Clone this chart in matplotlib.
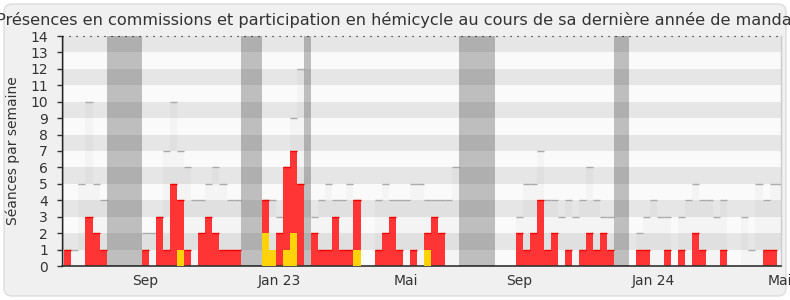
import matplotlib
matplotlib.use("Agg")
import matplotlib.pyplot as plt
from matplotlib.patches import FancyBboxPatch
import numpy as np

title = "Présences en commissions et participation en hémicycle au cours de sa dernière année de mandat"
ylabel = "Séances par semaine"

# weekly values (week index 0..101)
total = [1, 1, 5, 10, 5, 4, 0, 0, 0, 0, 0, 2, 2, 3, 7, 10, 7, 6, 4, 4, 5, 6, 5, 4, 4,
         0, 0, 0, 4, 4, 3, 6, 9, 12, 0, 3, 4, 5, 4, 4, 5, 4, 0, 0, 4, 5, 4, 4, 4, 5, 5,
         4, 4, 4, 4, 6, 0, 0, 0, 0, 0, 0, 0, 0, 3, 5, 5, 7, 4, 4, 3, 4, 3, 4, 6, 4, 3, 3,
         0, 0, 0, 2, 3, 4, 3, 3, 0, 3, 4, 5, 4, 4, 3, 4, 0, 0, 3, 1, 5, 4, 5, 5]
commission = [1, 0, 0, 3, 2, 1, 0, 0, 0, 0, 0, 1, 0, 3, 1, 5, 4, 1, 0, 2, 3, 2, 1, 1, 1,
              0, 0, 0, 4, 0, 2, 6, 7, 5, 0, 2, 1, 1, 3, 1, 1, 4, 0, 0, 1, 2, 3, 1, 0, 1, 0,
              2, 3, 2, 0, 0, 0, 0, 0, 0, 0, 0, 0, 0, 2, 1, 2, 4, 1, 2, 0, 1, 0, 1, 2, 1, 2, 1,
              0, 0, 0, 1, 1, 0, 0, 1, 0, 1, 0, 2, 1, 0, 0, 1, 0, 0, 0, 0, 0, 1, 1, 0]
hemicycle = [0] * 102
for wk, v in [(16, 1), (28, 2), (29, 1), (31, 1), (32, 2), (41, 1), (51, 1)]:
    hemicycle[wk] = v

vacances = [(-1, 0), (6, 11), (25, 28), (34, 35), (56, 61), (78, 80)]
tick_weeks = [11, 30, 48, 64, 83, 101]
tick_labels = ["Sep", "Jan 23", "Mai", "Sep", "Jan 24", "Mai"]

plt.rcParams['font.family'] = ['DejaVu Sans']
txt = '#333333'

fig = plt.figure(figsize=(7.9, 3.0), dpi=100)
fig.patch.set_facecolor('white')
box = FancyBboxPatch((0.04, 0.04), 7.82, 2.92, boxstyle="round,pad=0,rounding_size=0.08",
                     transform=fig.dpi_scale_trans, facecolor='#F0F0F0', edgecolor='#DDDDDD',
                     linewidth=1.0, zorder=-10)
fig.patches.append(box)

ax = fig.add_axes([62 / 790, 34 / 300, 718.5 / 790, 230 / 300])
ax.set_facecolor('#FAFAFA')
x = np.arange(len(total))

for lo in range(1, 14, 2):
    ax.axhspan(lo, lo + 1, color='#E6E6E6', lw=0, zorder=0)

ax.bar(x, total, width=1, align='edge', color=(0, 0, 0, 0.025), lw=0, zorder=1)
ax.hlines([t for t in total], x, x + 1, colors='#AAAAAA', lw=1.0, zorder=1.5)
ax.bar(x, commission, width=1, align='edge', color='#FF3535', lw=0, zorder=2)
mask = np.array(commission) > 0
ax.hlines(np.array(commission)[mask], x[mask], x[mask] + 1, colors='#F00000', lw=1.0, zorder=2.5)
ax.bar(x, hemicycle, width=1, align='edge', color='#FFD20A', lw=0, zorder=3)

for a, b in vacances:
    ax.axvspan(a, b, color='black', alpha=0.24, lw=0, zorder=4)

ax.axhline(14, color='black', lw=0.8, ls=(0, (1, 5.3)), zorder=5, clip_on=False)

ax.set_xlim(-0.33, 101.55)
ax.set_ylim(0, 14)
ax.set_yticks(range(0, 15))
ax.set_xticks([w + 0.5 for w in tick_weeks])
ax.set_xticklabels(tick_labels)
ax.tick_params(axis='y', length=3.6, width=1, color=txt, pad=6.5, labelsize=10, labelcolor=txt)
ax.tick_params(axis='x', length=0, pad=5.5, labelsize=10, labelcolor=txt)

ax.spines['top'].set_visible(False)
ax.spines['left'].set_color(txt)
ax.spines['left'].set_linewidth(1.0)
ax.spines['bottom'].set_color(txt)
ax.spines['bottom'].set_linewidth(1.2)
ax.spines['right'].set_color('#CCCCCC')
ax.spines['right'].set_linewidth(1.0)

fig.text(0.503, 1 - 25.5 / 300, title, ha='center', va='baseline', fontsize=11.65, color=txt)
fig.text(13 / 790, 1 - 151 / 300, ylabel, rotation=90, ha='center', va='center',
         fontsize=10, color=txt)

fig.savefig('out.png', dpi=100, facecolor=fig.get_facecolor())
